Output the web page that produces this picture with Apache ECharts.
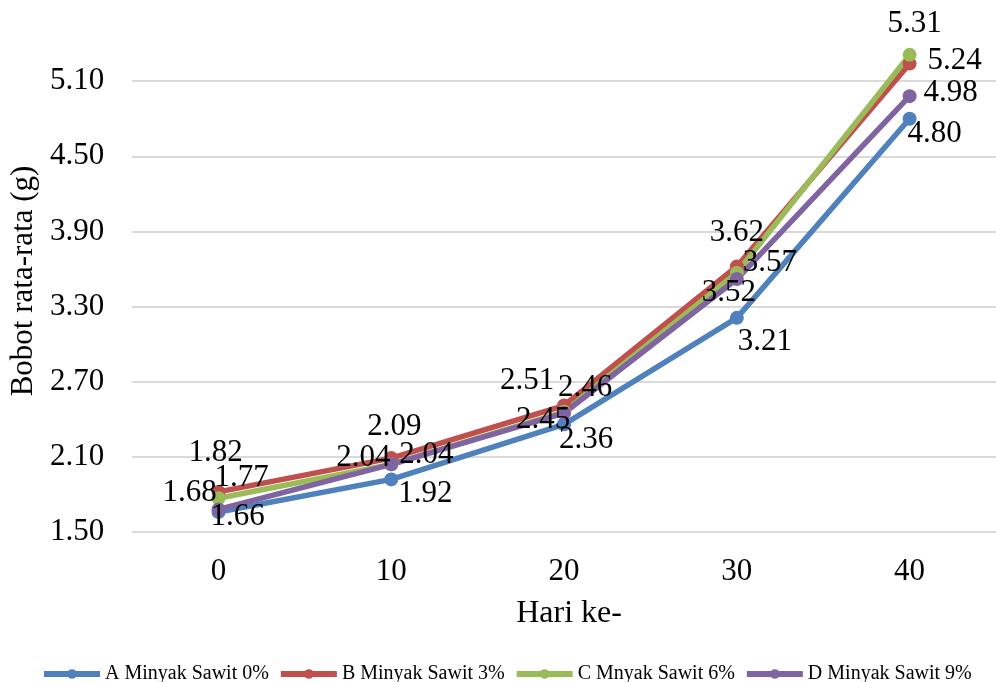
<!DOCTYPE html>
<html>
<head>
<meta charset="utf-8">
<script src="https://cdn.jsdelivr.net/npm/echarts@6/dist/echarts.min.js"></script>
<style>
  html, body { margin: 0; padding: 0; background: #fff; }
  #chart { width: 996px; height: 682px; }
</style>
</head>
<body>
<div id="chart"></div>
<script>
// Hari pengamatan
const days = ['0', '10', '20', '30', '40'];

// Bobot rata-rata (g) per perlakuan
const seriesNames = ['A Minyak Sawit 0%', 'B Minyak Sawit 3%', 'C Mnyak Sawit 6%', 'D Minyak Sawit 9%'];
const weightA = [1.66, 1.92, 2.36, 3.21, 4.80];
const weightB = [1.82, 2.09, 2.51, 3.62, 5.24];
const weightC = [1.77, 2.04, 2.46, 3.57, 5.31];
const weightD = [1.68, 2.04, 2.45, 3.52, 4.98];

// Y-axis range and step
const yMin = 1.5;
const yMax = 5.7;
const yStep = 0.6;

const colors = ['#4F81BD', '#C0504D', '#9BBB59', '#8064A2'];
const FONT = '"Liberation Serif", "Times New Roman", serif';

// Label placement (pixel offset from each marker centre) to keep labels apart
const labelOffsets = [
  [[19, 5], [34, 14], [22, 16], [28, 24], [25, 15]],
  [[-3, -39], [3, -31], [-37, -25], [0, -34], [45, -3]],
  [[23, -20], [-28, -7], [21, -24], [33, -10], [5, -31]],
  [[-29, -17], [35, -10], [-21, 7], [-8, 14], [41, -3]]
];

const allValues = [weightA, weightB, weightC, weightD];

const series = allValues.map((vals, s) => ({
  name: seriesNames[s],
  type: 'line',
  data: vals.map((v, i) => ({
    value: v,
    label: { position: 'inside', offset: labelOffsets[s][i] }
  })),
  symbol: 'circle',
  symbolSize: 14,
  lineStyle: { width: 5.5, color: colors[s] },
  itemStyle: { color: colors[s] },
  label: {
    show: true,
    color: '#000',
    fontFamily: FONT,
    fontSize: 31,
    formatter: p => p.value.toFixed(2)
  },
  emphasis: { disabled: true },
  animation: false
}));

const chart = echarts.init(document.getElementById('chart'), null, { renderer: 'canvas' });
chart.setOption({
  backgroundColor: '#fff',
  color: colors,
  grid: { left: 131, top: 6, width: 870, height: 526, containLabel: false },
  xAxis: {
    type: 'category',
    data: days,
    boundaryGap: true,
    axisLine: { show: false },
    axisTick: { show: false },
    axisLabel: { color: '#000', fontFamily: FONT, fontSize: 31, margin: 24 },
    name: 'Hari ke-',
    nameLocation: 'middle',
    nameGap: 66,
    nameTextStyle: { color: '#000', fontFamily: FONT, fontSize: 32, padding: [0, 0, 0, 10] }
  },
  yAxis: {
    type: 'value',
    min: yMin,
    max: yMax,
    interval: yStep,
    axisLine: { show: false },
    axisTick: { show: false },
    splitLine: { show: true, showMaxLine: false, lineStyle: { color: '#D9D9D9', width: 2 } },
    axisLabel: {
      color: '#000', fontFamily: FONT, fontSize: 31, margin: 28,
      formatter: v => v.toFixed(2),
      showMaxLabel: false
    },
    name: 'Bobot rata-rata (g)',
    nameLocation: 'middle',
    nameRotate: 90,
    nameGap: 84,
    nameTextStyle: { color: '#000', fontFamily: FONT, fontSize: 31, padding: [0, 24, 0, 0] }
  },
  legend: {
    data: seriesNames,
    left: 36,
    top: 659,
    itemWidth: 56,
    itemHeight: 12,
    itemGap: 9,
    lineStyle: { width: 6 },
    textStyle: { color: '#000', fontFamily: FONT, fontSize: 20 }
  },
  series: series
});
</script>
</body>
</html>
